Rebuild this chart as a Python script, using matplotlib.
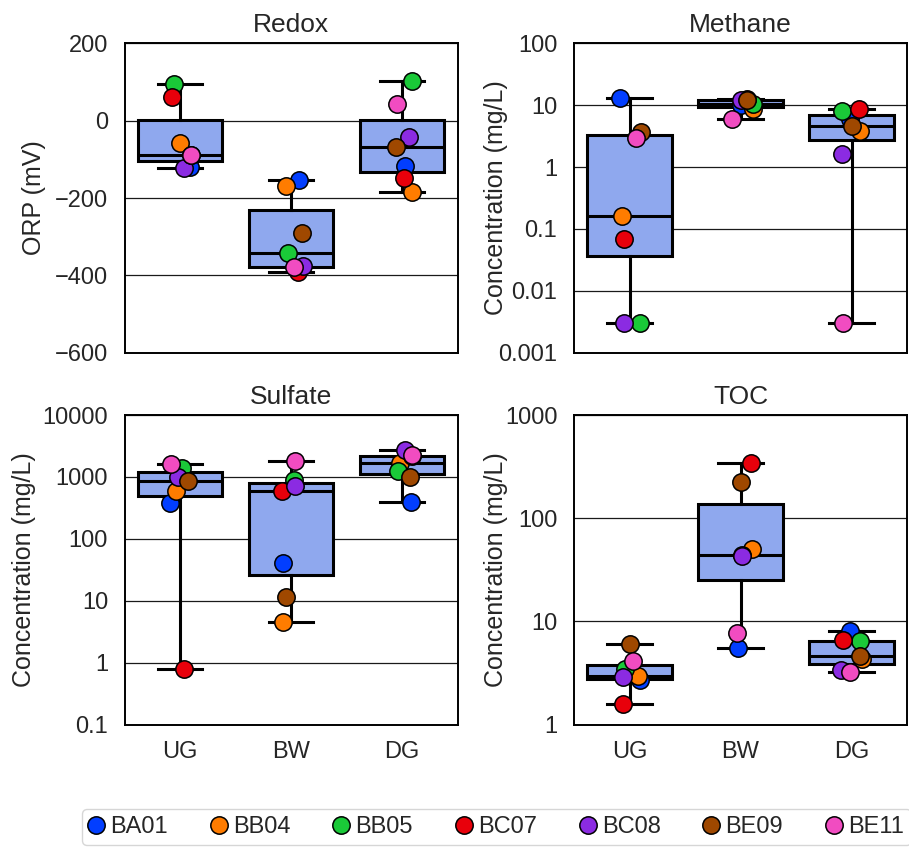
import matplotlib
matplotlib.use('Agg')
import matplotlib.pyplot as plt
from matplotlib.lines import Line2D
from matplotlib.ticker import NullLocator

plt.rcParams['font.family'] = ['Liberation Sans', 'DejaVu Sans']

# ---------------- data ----------------
groups = ['UG', 'BW', 'DG']
sites = ['BA01', 'BB04', 'BB05', 'BC07', 'BC08', 'BE09', 'BE11']
site_colors = ['#023eff', '#ff7c00', '#1ac938', '#e8000b', '#8b2be2', '#9f4800', '#f14cc1']

# values per group, ordered as `sites`
redox_ug = [-120, -59, 95, 61, -122, -90, -88]
redox_bw = [-154, -170, -343, -392, -376, -290, -379]
redox_dg = [-118, -185, 102, -147, -42, -67, 44]

methane_ug = [13.0, 0.16, 0.003, 0.07, 0.003, 3.7, 3.0]
methane_bw = [10.0, 8.8, 10.3, 12.8, 12.3, 12.0, 5.9]
methane_dg = [5.9, 3.8, 8.1, 8.6, 1.6, 4.6, 0.003]

sulfate_ug = [377, 603, 1380, 0.78, 1000, 875, 1645]
sulfate_bw = [40.5, 4.5, 885, 603, 725, 11.6, 1810]
sulfate_dg = [395, 1700, 1250, 2150, 2690, 1000, 2250]

toc_ug = [2.72, 2.94, 3.47, 1.59, 2.88, 6.07, 4.18]
toc_bw = [5.55, 50, 44, 344, 42.8, 224, 7.7]
toc_dg = [8.0, 4.34, 6.4, 6.6, 3.42, 4.6, 3.27]

# strip-plot horizontal jitter (category units), ordered as `sites`
redox_jit = [[0.09, 0.0, -0.054, -0.072, 0.036, 0.10, 0.10],
             [0.072, -0.048, -0.027, 0.06, 0.105, 0.099, 0.027],
             [0.023, 0.092, 0.092, 0.016, 0.059, -0.059, -0.043]]
methane_jit = [[-0.086, -0.068, 0.095, -0.05, -0.052, 0.10, 0.056],
               [0.0, 0.115, 0.11, 0.06, 0.0, 0.056, -0.074],
               [-0.014, 0.077, -0.083, 0.068, -0.083, 0.007, -0.074]]
sulfate_jit = [[-0.09, -0.036, 0.018, 0.03, -0.024, 0.066, -0.084],
               [-0.075, -0.072, 0.027, -0.081, 0.033, -0.045, 0.033],
               [0.083, -0.016, -0.038, 0.092, 0.023, 0.068, 0.092]]
toc_jit = [[0.095, 0.074, -0.04, -0.061, -0.061, 0.0, 0.029],
           [-0.02, 0.106, 0.01, 0.092, 0.01, 0.0, -0.034],
           [-0.014, 0.092, 0.077, -0.079, -0.095, 0.077, -0.014]]

redox_ticks = [-600, -400, -200, 0, 200]
redox_labels = ['\u2212600', '\u2212400', '\u2212200', '0', '200']
methane_ticks = [0.001, 0.01, 0.1, 1, 10, 100]
methane_labels = ['0.001', '0.01', '0.1', '1', '10', '100']
sulfate_ticks = [0.1, 1, 10, 100, 1000, 10000]
sulfate_labels = ['0.1', '1', '10', '100', '1000', '10000']
toc_ticks = [1, 10, 100, 1000]
toc_labels = ['1', '10', '100', '1000']

panels = [
    dict(title='Redox', ylabel='ORP (mV)', data=[redox_ug, redox_bw, redox_dg], jit=redox_jit,
         log=False, ticks=redox_ticks, labels=redox_labels, lim=(-600, 200),
         rect=[124.7, 43.3, 457.7, 352.7], labx=-0.236),
    dict(title='Methane', ylabel='Concentration (mg/L)', data=[methane_ug, methane_bw, methane_dg], jit=methane_jit,
         log=True, ticks=methane_ticks, labels=methane_labels, lim=(0.001, 100),
         rect=[574.0, 43.3, 907.0, 352.7], labx=-0.199),
    dict(title='Sulfate', ylabel='Concentration (mg/L)', data=[sulfate_ug, sulfate_bw, sulfate_dg], jit=sulfate_jit,
         log=True, ticks=sulfate_ticks, labels=sulfate_labels, lim=(0.1, 10000),
         rect=[124.7, 415.0, 457.7, 724.7], labx=-0.266),
    dict(title='TOC', ylabel='Concentration (mg/L)', data=[toc_ug, toc_bw, toc_dg], jit=toc_jit,
         log=True, ticks=toc_ticks, labels=toc_labels, lim=(1, 1000),
         rect=[574.0, 415.0, 907.0, 724.7], labx=-0.199),
]

W, H = 909, 847
fig = plt.figure(figsize=(W / 100, H / 100), dpi=100)

box_color = '#8fa8ee'
text_color = '#262626'
positions = list(range(len(groups)))

for p in panels:
    x0, y0, x1, y1 = p['rect']
    ax = fig.add_axes([x0 / W, 1 - y1 / H, (x1 - x0) / W, (y1 - y0) / H])
    if p['log']:
        ax.set_yscale('log')
    ax.set_ylim(*p['lim'])
    ax.set_xlim(-0.5, len(groups) - 0.5)
    ax.yaxis.grid(True, color='#1a1a1a', linewidth=0.9)
    ax.set_axisbelow(True)

    ax.boxplot(p['data'], positions=positions, widths=0.76, whis=(0, 100),
               showfliers=False, patch_artist=True, capwidths=0.4,
               boxprops=dict(facecolor=box_color, edgecolor='black', linewidth=2.2),
               medianprops=dict(color='black', linewidth=2.2),
               whiskerprops=dict(color='black', linewidth=2.2),
               capprops=dict(color='black', linewidth=2.2),
               zorder=2)

    for i, (site, col) in enumerate(zip(sites, site_colors)):
        for g in positions:
            ax.plot(g + p['jit'][g][i], p['data'][g][i], 'o', ms=12.5,
                    mfc=col, mec='black', mew=1.1, zorder=3, clip_on=False)

    ax.set_yticks(p['ticks'])
    ax.set_yticklabels(p['labels'])
    ax.yaxis.set_minor_locator(NullLocator())
    ax.set_xticks(positions)
    ax.set_xticklabels(groups if p['title'] in ('Sulfate', 'TOC') else [])
    ax.tick_params(axis='both', length=0, pad=12, labelsize=17, labelcolor=text_color)
    for s in ax.spines.values():
        s.set_color('black')
        s.set_linewidth(1.4)
    ax.set_title(p['title'], fontsize=19, color=text_color, pad=8)
    ax.set_ylabel(p['ylabel'], fontsize=18, color=text_color)
    ax.yaxis.set_label_coords(p['labx'], 0.5)

handles = [Line2D([], [], marker='o', linestyle='none', ms=12.5, mfc=c, mec='black', mew=1.1)
           for c in site_colors]
fig.legend(handles, sites, loc='upper left', bbox_to_anchor=(82 / W, 1 - 809 / H),
           ncol=len(sites), fontsize=17, frameon=True, fancybox=True,
           edgecolor='#cccccc', borderaxespad=0, borderpad=0.3,
           handlelength=0.6, handletextpad=0.3, columnspacing=1.85,
           labelcolor=text_color)

fig.savefig('out.png', dpi=100)
